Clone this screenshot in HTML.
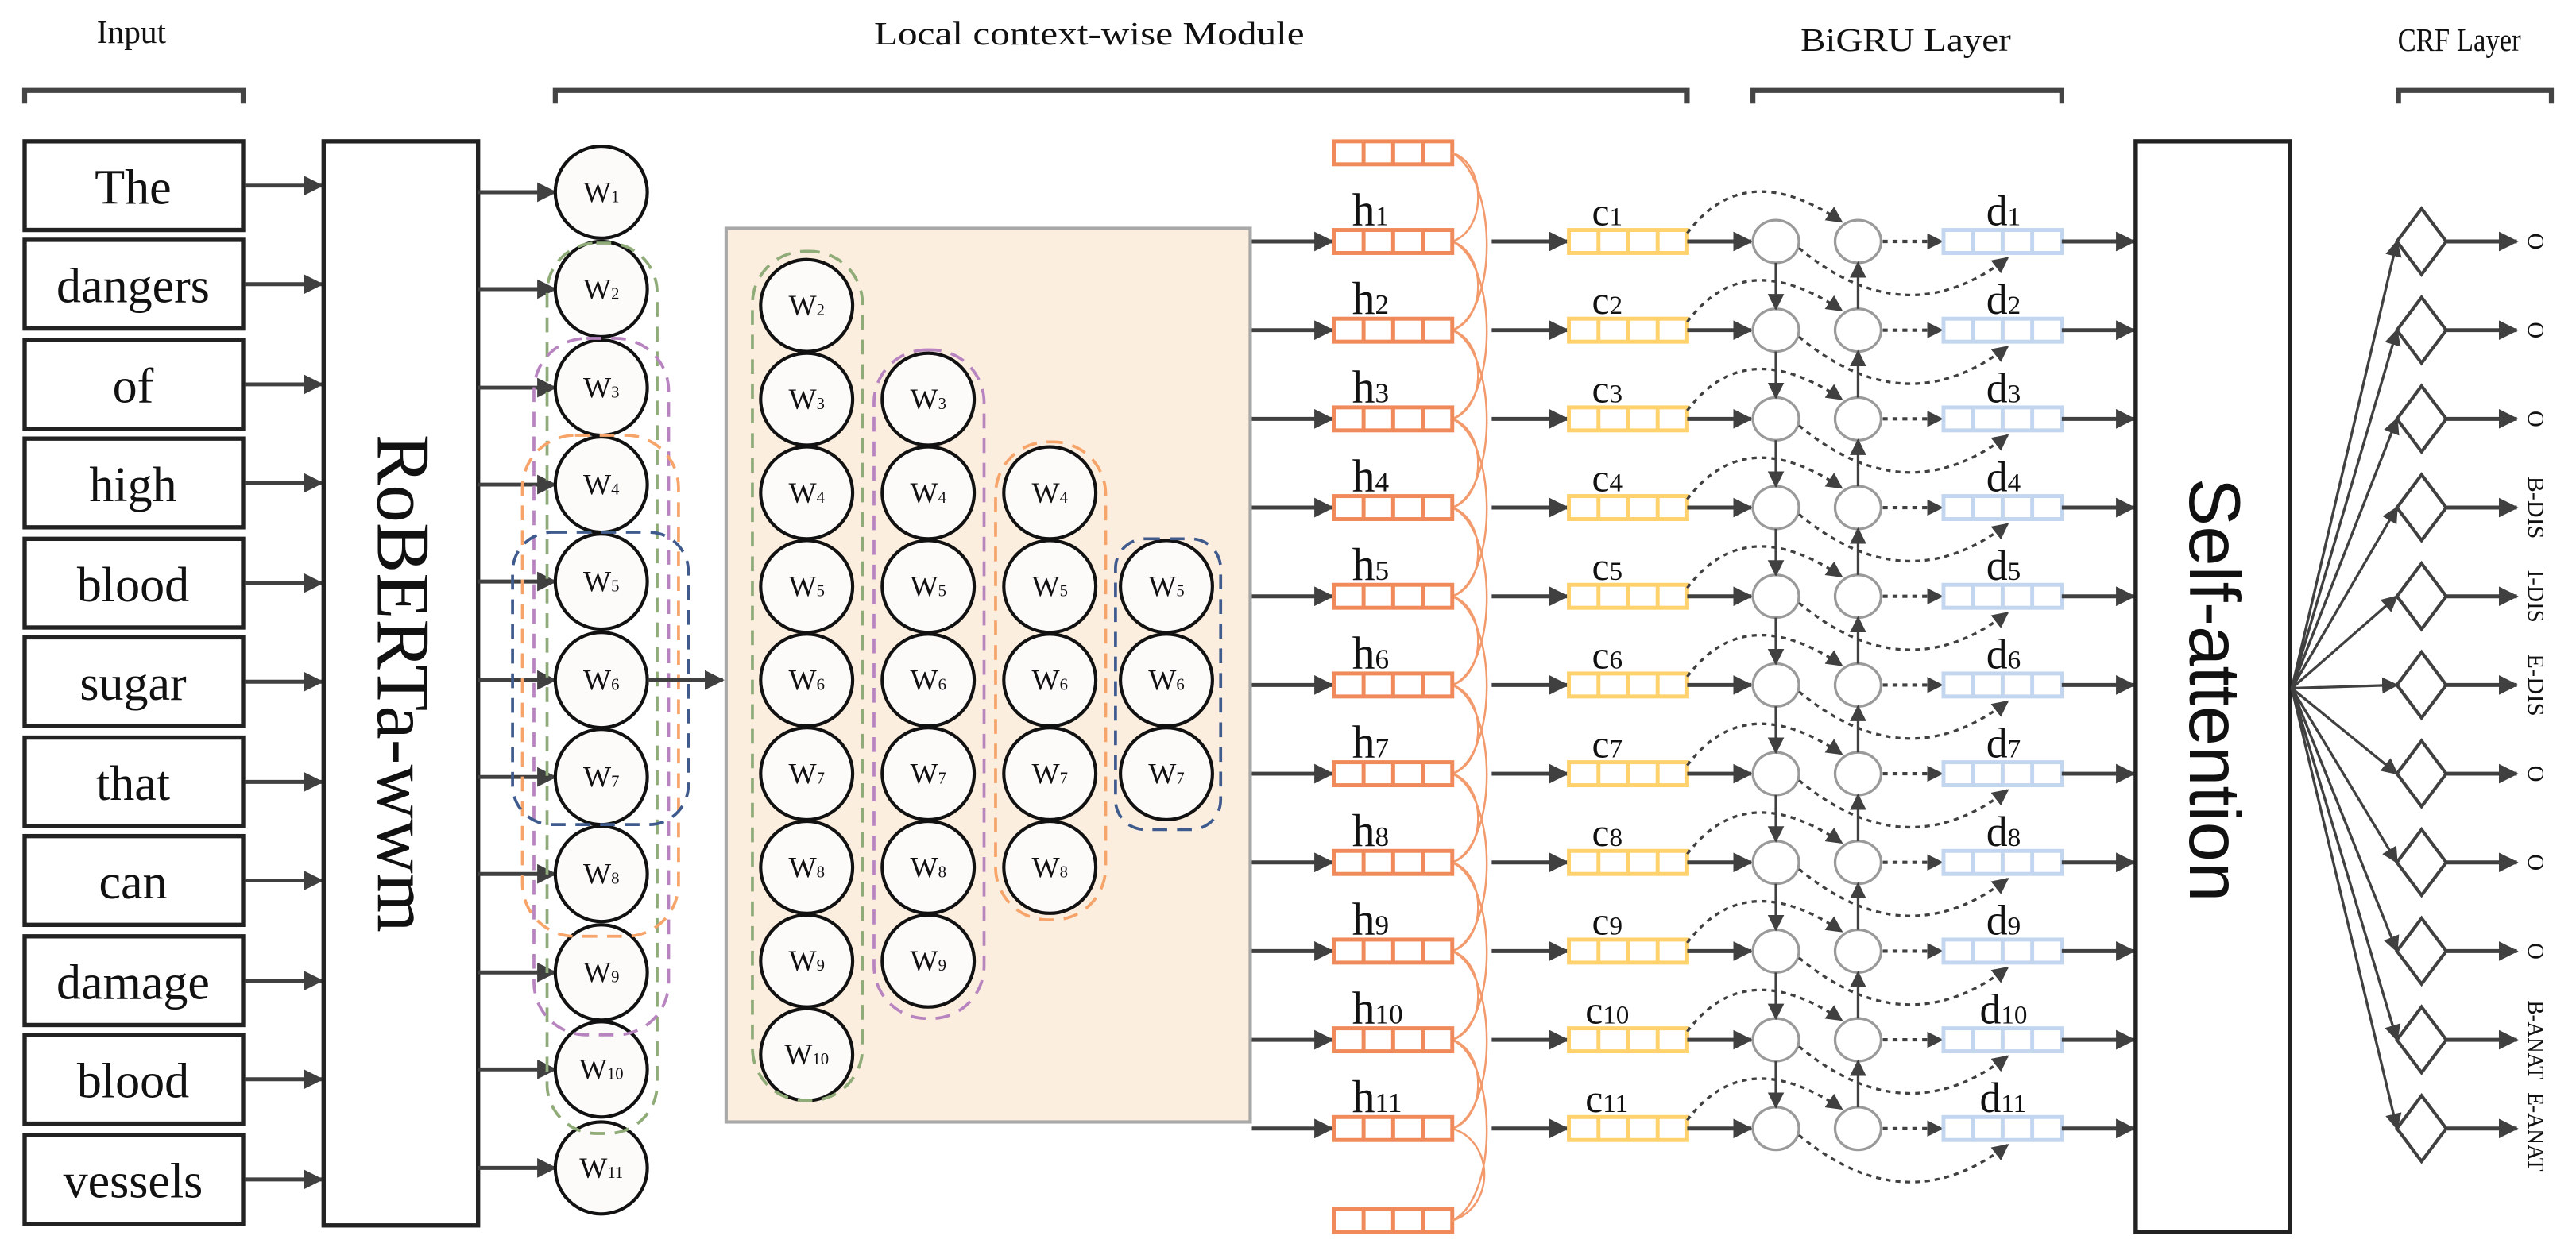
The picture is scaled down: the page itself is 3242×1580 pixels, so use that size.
<!DOCTYPE html>
<html><head><meta charset="utf-8"><style>
html,body{margin:0;padding:0;background:#fff}
svg{display:block}
text{font-family:"Liberation Serif",serif;fill:#111}
.ar{stroke:#404040;stroke-width:2.4;fill:none;marker-end:url(#a)}
.ar2{stroke:#404040;stroke-width:1.6;fill:none;marker-end:url(#a2)}
.dt{stroke:#404040;stroke-width:2;fill:none;stroke-dasharray:3 3;marker-end:url(#a2)}
.dtn{stroke:#404040;stroke-width:1.6;fill:none;stroke-dasharray:3 3;marker-end:url(#a2)}
.bx{fill:#fff;stroke:#222;stroke-width:2.6}
.w{fill:#fdfafa;stroke:#111;stroke-width:2}
.wt{font-size:18px;text-anchor:middle}
.g1{fill:none;stroke-width:1.8;stroke-dasharray:9 6}
.oc{fill:none;stroke:#f39a6c;stroke-width:1.2}
.gc{fill:#fff;stroke:#9a9a9a;stroke-width:1.6}
.dm{fill:#fff;stroke:#404040;stroke-width:2}
.lb{font-size:14px;text-anchor:middle}
</style></head><body>
<svg width="3242" height="1580" viewBox="0 0 1568 764" preserveAspectRatio="none" xmlns="http://www.w3.org/2000/svg">
<defs>
<marker id="a" markerUnits="userSpaceOnUse" markerWidth="12" markerHeight="12" refX="11" refY="6" orient="auto"><path d="M0,0 L12,6 L0,12 z" fill="#404040"/></marker>
<marker id="a2" markerUnits="userSpaceOnUse" markerWidth="10" markerHeight="10" refX="9" refY="5" orient="auto"><path d="M0,0 L10,5 L0,10 z" fill="#404040"/></marker>
<g id="hb"><rect x="0" y="0" width="72" height="14" fill="#fff" stroke="#f08a5b" stroke-width="2.4"/><path d="M18,0V14M36,0V14M54,0V14" stroke="#f08a5b" stroke-width="2.4"/></g>
<g id="cb"><rect x="0" y="0" width="72" height="14" fill="#fff" stroke="#ffd26e" stroke-width="2.4"/><path d="M18,0V14M36,0V14M54,0V14" stroke="#ffd26e" stroke-width="2.4"/></g>
<g id="db"><rect x="0" y="0" width="72" height="14" fill="#fff" stroke="#c3d6f0" stroke-width="2.4"/><path d="M18,0V14M36,0V14M54,0V14" stroke="#c3d6f0" stroke-width="2.4"/></g>
</defs>

<text x="80" y="26" font-size="20" text-anchor="middle">Input</text>
<text x="663" y="27" font-size="20" text-anchor="middle" textLength="262" lengthAdjust="spacingAndGlyphs">Local context-wise Module</text>
<text x="1160" y="31" font-size="20" text-anchor="middle" textLength="128" lengthAdjust="spacingAndGlyphs">BiGRU Layer</text>
<text x="1497" y="31" font-size="20" text-anchor="middle" textLength="75" lengthAdjust="spacingAndGlyphs">CRF Layer</text>
<g stroke="#444" fill="none"><path d="M15,63V55H148V63" stroke-width="3"/><path d="M338,63V55H1027V63" stroke-width="3"/><path d="M1067,63V55H1255V63" stroke-width="3"/><path d="M1460,63V55H1553V63" stroke-width="3"/></g>

<g>
<rect class="bx" x="15" y="86" width="133" height="54"/><text x="81" y="124" font-size="30" text-anchor="middle">The</text>
<rect class="bx" x="15" y="146" width="133" height="54"/><text x="81" y="184" font-size="30" text-anchor="middle">dangers</text>
<rect class="bx" x="15" y="207" width="133" height="54"/><text x="81" y="245" font-size="30" text-anchor="middle">of</text>
<rect class="bx" x="15" y="267" width="133" height="54"/><text x="81" y="305" font-size="30" text-anchor="middle">high</text>
<rect class="bx" x="15" y="328" width="133" height="54"/><text x="81" y="366" font-size="30" text-anchor="middle">blood</text>
<rect class="bx" x="15" y="388" width="133" height="54"/><text x="81" y="426" font-size="30" text-anchor="middle">sugar</text>
<rect class="bx" x="15" y="449" width="133" height="54"/><text x="81" y="487" font-size="30" text-anchor="middle">that</text>
<rect class="bx" x="15" y="509" width="133" height="54"/><text x="81" y="547" font-size="30" text-anchor="middle">can</text>
<rect class="bx" x="15" y="570" width="133" height="54"/><text x="81" y="608" font-size="30" text-anchor="middle">damage</text>
<rect class="bx" x="15" y="630" width="133" height="54"/><text x="81" y="668" font-size="30" text-anchor="middle">blood</text>
<rect class="bx" x="15" y="691" width="133" height="54"/><text x="81" y="729" font-size="30" text-anchor="middle">vessels</text>
</g>
<g>
<line class="ar" x1="149" y1="113" x2="196" y2="113"/><line class="ar" x1="149" y1="173" x2="196" y2="173"/><line class="ar" x1="149" y1="234" x2="196" y2="234"/><line class="ar" x1="149" y1="294" x2="196" y2="294"/><line class="ar" x1="149" y1="355" x2="196" y2="355"/><line class="ar" x1="149" y1="415" x2="196" y2="415"/><line class="ar" x1="149" y1="476" x2="196" y2="476"/><line class="ar" x1="149" y1="536" x2="196" y2="536"/><line class="ar" x1="149" y1="597" x2="196" y2="597"/><line class="ar" x1="149" y1="657" x2="196" y2="657"/><line class="ar" x1="149" y1="718" x2="196" y2="718"/>
</g>
<rect x="197" y="86" width="94" height="660" fill="#fff" stroke="#222" stroke-width="2.6"/>
<text transform="translate(230,416) rotate(90)" font-size="46" text-anchor="middle">RoBERTa-wwm</text>

<g>
<line class="ar" x1="291" y1="117" x2="338" y2="117"/><line class="ar" x1="291" y1="176" x2="338" y2="176"/><line class="ar" x1="291" y1="236" x2="338" y2="236"/><line class="ar" x1="291" y1="295" x2="338" y2="295"/><line class="ar" x1="291" y1="354" x2="338" y2="354"/><line class="ar" x1="291" y1="414" x2="338" y2="414"/><line class="ar" x1="291" y1="473" x2="338" y2="473"/><line class="ar" x1="291" y1="532" x2="338" y2="532"/><line class="ar" x1="291" y1="592" x2="338" y2="592"/><line class="ar" x1="291" y1="651" x2="338" y2="651"/><line class="ar" x1="291" y1="711" x2="338" y2="711"/>
</g>
<g>
<ellipse class="w" cx="366" cy="117" rx="28" ry="28"/><text class="wt" x="366" y="123">W<tspan font-size="10">1</tspan></text>
<ellipse class="w" cx="366" cy="176" rx="28" ry="29"/><text class="wt" x="366" y="182">W<tspan font-size="10">2</tspan></text>
<ellipse class="w" cx="366" cy="236" rx="28" ry="29"/><text class="wt" x="366" y="242">W<tspan font-size="10">3</tspan></text>
<ellipse class="w" cx="366" cy="295" rx="28" ry="29"/><text class="wt" x="366" y="301">W<tspan font-size="10">4</tspan></text>
<ellipse class="w" cx="366" cy="354" rx="28" ry="29"/><text class="wt" x="366" y="360">W<tspan font-size="10">5</tspan></text>
<ellipse class="w" cx="366" cy="414" rx="28" ry="29"/><text class="wt" x="366" y="420">W<tspan font-size="10">6</tspan></text>
<ellipse class="w" cx="366" cy="473" rx="28" ry="29"/><text class="wt" x="366" y="479">W<tspan font-size="10">7</tspan></text>
<ellipse class="w" cx="366" cy="532" rx="28" ry="29"/><text class="wt" x="366" y="538">W<tspan font-size="10">8</tspan></text>
<ellipse class="w" cx="366" cy="592" rx="28" ry="29"/><text class="wt" x="366" y="598">W<tspan font-size="10">9</tspan></text>
<ellipse class="w" cx="366" cy="651" rx="28" ry="29"/><text class="wt" x="366" y="657">W<tspan font-size="10">10</tspan></text>
<ellipse class="w" cx="366" cy="711" rx="28" ry="28"/><text class="wt" x="366" y="717">W<tspan font-size="10">11</tspan></text>
</g>
<rect class="g1" x="333" y="148" width="67" height="542" rx="30" stroke="#8fab78"/>
<rect class="g1" x="325" y="206" width="82" height="424" rx="32" stroke="#b884c0"/>
<rect class="g1" x="318" y="265" width="95" height="305" rx="32" stroke="#f6a469"/>
<rect class="g1" x="312" y="324" width="107" height="178" rx="24" stroke="#3f5b8e"/>
<line class="ar" x1="394" y1="414" x2="440" y2="414"/>

<rect x="442" y="139" width="319" height="544" fill="#fbeedf" stroke="#a8a8a8" stroke-width="2"/>
<g>
<ellipse class="w" cx="491" cy="186" rx="28" ry="28"/><text class="wt" x="491" y="192">W<tspan font-size="10">2</tspan></text>
<ellipse class="w" cx="491" cy="243" rx="28" ry="28"/><text class="wt" x="491" y="249">W<tspan font-size="10">3</tspan></text>
<ellipse class="w" cx="491" cy="300" rx="28" ry="28"/><text class="wt" x="491" y="306">W<tspan font-size="10">4</tspan></text>
<ellipse class="w" cx="491" cy="357" rx="28" ry="28"/><text class="wt" x="491" y="363">W<tspan font-size="10">5</tspan></text>
<ellipse class="w" cx="491" cy="414" rx="28" ry="28"/><text class="wt" x="491" y="420">W<tspan font-size="10">6</tspan></text>
<ellipse class="w" cx="491" cy="471" rx="28" ry="28"/><text class="wt" x="491" y="477">W<tspan font-size="10">7</tspan></text>
<ellipse class="w" cx="491" cy="528" rx="28" ry="28"/><text class="wt" x="491" y="534">W<tspan font-size="10">8</tspan></text>
<ellipse class="w" cx="491" cy="585" rx="28" ry="28"/><text class="wt" x="491" y="591">W<tspan font-size="10">9</tspan></text>
<ellipse class="w" cx="491" cy="642" rx="28" ry="28"/><text class="wt" x="491" y="648">W<tspan font-size="10">10</tspan></text>

<ellipse class="w" cx="565" cy="243" rx="28" ry="28"/><text class="wt" x="565" y="249">W<tspan font-size="10">3</tspan></text>
<ellipse class="w" cx="565" cy="300" rx="28" ry="28"/><text class="wt" x="565" y="306">W<tspan font-size="10">4</tspan></text>
<ellipse class="w" cx="565" cy="357" rx="28" ry="28"/><text class="wt" x="565" y="363">W<tspan font-size="10">5</tspan></text>
<ellipse class="w" cx="565" cy="414" rx="28" ry="28"/><text class="wt" x="565" y="420">W<tspan font-size="10">6</tspan></text>
<ellipse class="w" cx="565" cy="471" rx="28" ry="28"/><text class="wt" x="565" y="477">W<tspan font-size="10">7</tspan></text>
<ellipse class="w" cx="565" cy="528" rx="28" ry="28"/><text class="wt" x="565" y="534">W<tspan font-size="10">8</tspan></text>
<ellipse class="w" cx="565" cy="585" rx="28" ry="28"/><text class="wt" x="565" y="591">W<tspan font-size="10">9</tspan></text>

<ellipse class="w" cx="639" cy="300" rx="28" ry="28"/><text class="wt" x="639" y="306">W<tspan font-size="10">4</tspan></text>
<ellipse class="w" cx="639" cy="357" rx="28" ry="28"/><text class="wt" x="639" y="363">W<tspan font-size="10">5</tspan></text>
<ellipse class="w" cx="639" cy="414" rx="28" ry="28"/><text class="wt" x="639" y="420">W<tspan font-size="10">6</tspan></text>
<ellipse class="w" cx="639" cy="471" rx="28" ry="28"/><text class="wt" x="639" y="477">W<tspan font-size="10">7</tspan></text>
<ellipse class="w" cx="639" cy="528" rx="28" ry="28"/><text class="wt" x="639" y="534">W<tspan font-size="10">8</tspan></text>

<ellipse class="w" cx="710" cy="357" rx="28" ry="28"/><text class="wt" x="710" y="363">W<tspan font-size="10">5</tspan></text>
<ellipse class="w" cx="710" cy="414" rx="28" ry="28"/><text class="wt" x="710" y="420">W<tspan font-size="10">6</tspan></text>
<ellipse class="w" cx="710" cy="471" rx="28" ry="28"/><text class="wt" x="710" y="477">W<tspan font-size="10">7</tspan></text>
</g>
<rect class="g1" x="458" y="153" width="67" height="517" rx="32" stroke="#8fab78"/>
<rect class="g1" x="532" y="213" width="67" height="407" rx="32" stroke="#b884c0"/>
<rect class="g1" x="606" y="269" width="67" height="291" rx="32" stroke="#f6a469"/>
<rect class="g1" x="679" y="328" width="64" height="177" rx="18" stroke="#3f5b8e"/>

<use href="#hb" x="812" y="86"/>
<use href="#hb" x="812" y="736"/>
<g class="oc">
<path d="M884,93 C905,100 905,140 884,147"/>
<path d="M884,147 C905,154 905,194 884,201"/><path d="M884,201 C905,208 905,248 884,255"/><path d="M884,255 C905,262 905,302 884,309"/><path d="M884,309 C905,316 905,356 884,363"/><path d="M884,363 C905,370 905,410 884,417"/><path d="M884,417 C905,424 905,464 884,471"/><path d="M884,471 C905,478 905,518 884,525"/><path d="M884,525 C905,532 905,572 884,579"/><path d="M884,579 C905,586 905,626 884,633"/><path d="M884,633 C905,640 905,680 884,687"/>
<path d="M884,687 C910,695 910,735 884,743"/>
<path d="M884,93 C912,110 912,190 884,201"/><path d="M884,147 C912,160 912,244 884,255"/><path d="M884,201 C912,214 912,298 884,309"/><path d="M884,255 C912,268 912,352 884,363"/><path d="M884,309 C912,322 912,406 884,417"/><path d="M884,363 C912,376 912,460 884,471"/><path d="M884,417 C912,430 912,514 884,525"/><path d="M884,471 C912,484 912,568 884,579"/><path d="M884,525 C912,538 912,622 884,633"/><path d="M884,579 C912,592 912,676 884,687"/><path d="M884,633 C912,646 912,730 884,743"/>
</g>

<g>
<line class="ar" x1="762" y1="147" x2="811" y2="147"/><use href="#hb" x="812" y="140"/><line class="ar" x1="908" y1="147" x2="954" y2="147"/><use href="#cb" x="955" y="140"/><line class="ar" x1="1027" y1="147" x2="1066" y2="147"/><ellipse class="gc" cx="1081" cy="147" rx="14" ry="13"/><ellipse class="gc" cx="1131" cy="147" rx="14" ry="13"/><line class="dt" x1="1146" y1="147" x2="1182" y2="147"/><use href="#db" x="1183" y="140"/><line class="ar" x1="1255" y1="147" x2="1299" y2="147"/><path class="dtn" d="M1027,142 Q1062,95 1121,135"/><path class="dtn" d="M1095,151 Q1160,205 1222,157"/>
<line class="ar" x1="762" y1="201" x2="811" y2="201"/><use href="#hb" x="812" y="194"/><line class="ar" x1="908" y1="201" x2="954" y2="201"/><use href="#cb" x="955" y="194"/><line class="ar" x1="1027" y1="201" x2="1066" y2="201"/><ellipse class="gc" cx="1081" cy="201" rx="14" ry="13"/><ellipse class="gc" cx="1131" cy="201" rx="14" ry="13"/><line class="dt" x1="1146" y1="201" x2="1182" y2="201"/><use href="#db" x="1183" y="194"/><line class="ar" x1="1255" y1="201" x2="1299" y2="201"/><path class="dtn" d="M1027,196 Q1062,149 1121,189"/><path class="dtn" d="M1095,205 Q1160,259 1222,211"/>
<line class="ar" x1="762" y1="255" x2="811" y2="255"/><use href="#hb" x="812" y="248"/><line class="ar" x1="908" y1="255" x2="954" y2="255"/><use href="#cb" x="955" y="248"/><line class="ar" x1="1027" y1="255" x2="1066" y2="255"/><ellipse class="gc" cx="1081" cy="255" rx="14" ry="13"/><ellipse class="gc" cx="1131" cy="255" rx="14" ry="13"/><line class="dt" x1="1146" y1="255" x2="1182" y2="255"/><use href="#db" x="1183" y="248"/><line class="ar" x1="1255" y1="255" x2="1299" y2="255"/><path class="dtn" d="M1027,250 Q1062,203 1121,243"/><path class="dtn" d="M1095,259 Q1160,313 1222,265"/>
<line class="ar" x1="762" y1="309" x2="811" y2="309"/><use href="#hb" x="812" y="302"/><line class="ar" x1="908" y1="309" x2="954" y2="309"/><use href="#cb" x="955" y="302"/><line class="ar" x1="1027" y1="309" x2="1066" y2="309"/><ellipse class="gc" cx="1081" cy="309" rx="14" ry="13"/><ellipse class="gc" cx="1131" cy="309" rx="14" ry="13"/><line class="dt" x1="1146" y1="309" x2="1182" y2="309"/><use href="#db" x="1183" y="302"/><line class="ar" x1="1255" y1="309" x2="1299" y2="309"/><path class="dtn" d="M1027,304 Q1062,257 1121,297"/><path class="dtn" d="M1095,313 Q1160,367 1222,319"/>
<line class="ar" x1="762" y1="363" x2="811" y2="363"/><use href="#hb" x="812" y="356"/><line class="ar" x1="908" y1="363" x2="954" y2="363"/><use href="#cb" x="955" y="356"/><line class="ar" x1="1027" y1="363" x2="1066" y2="363"/><ellipse class="gc" cx="1081" cy="363" rx="14" ry="13"/><ellipse class="gc" cx="1131" cy="363" rx="14" ry="13"/><line class="dt" x1="1146" y1="363" x2="1182" y2="363"/><use href="#db" x="1183" y="356"/><line class="ar" x1="1255" y1="363" x2="1299" y2="363"/><path class="dtn" d="M1027,358 Q1062,311 1121,351"/><path class="dtn" d="M1095,367 Q1160,421 1222,373"/>
<line class="ar" x1="762" y1="417" x2="811" y2="417"/><use href="#hb" x="812" y="410"/><line class="ar" x1="908" y1="417" x2="954" y2="417"/><use href="#cb" x="955" y="410"/><line class="ar" x1="1027" y1="417" x2="1066" y2="417"/><ellipse class="gc" cx="1081" cy="417" rx="14" ry="13"/><ellipse class="gc" cx="1131" cy="417" rx="14" ry="13"/><line class="dt" x1="1146" y1="417" x2="1182" y2="417"/><use href="#db" x="1183" y="410"/><line class="ar" x1="1255" y1="417" x2="1299" y2="417"/><path class="dtn" d="M1027,412 Q1062,365 1121,405"/><path class="dtn" d="M1095,421 Q1160,475 1222,427"/>
<line class="ar" x1="762" y1="471" x2="811" y2="471"/><use href="#hb" x="812" y="464"/><line class="ar" x1="908" y1="471" x2="954" y2="471"/><use href="#cb" x="955" y="464"/><line class="ar" x1="1027" y1="471" x2="1066" y2="471"/><ellipse class="gc" cx="1081" cy="471" rx="14" ry="13"/><ellipse class="gc" cx="1131" cy="471" rx="14" ry="13"/><line class="dt" x1="1146" y1="471" x2="1182" y2="471"/><use href="#db" x="1183" y="464"/><line class="ar" x1="1255" y1="471" x2="1299" y2="471"/><path class="dtn" d="M1027,466 Q1062,419 1121,459"/><path class="dtn" d="M1095,475 Q1160,529 1222,481"/>
<line class="ar" x1="762" y1="525" x2="811" y2="525"/><use href="#hb" x="812" y="518"/><line class="ar" x1="908" y1="525" x2="954" y2="525"/><use href="#cb" x="955" y="518"/><line class="ar" x1="1027" y1="525" x2="1066" y2="525"/><ellipse class="gc" cx="1081" cy="525" rx="14" ry="13"/><ellipse class="gc" cx="1131" cy="525" rx="14" ry="13"/><line class="dt" x1="1146" y1="525" x2="1182" y2="525"/><use href="#db" x="1183" y="518"/><line class="ar" x1="1255" y1="525" x2="1299" y2="525"/><path class="dtn" d="M1027,520 Q1062,473 1121,513"/><path class="dtn" d="M1095,529 Q1160,583 1222,535"/>
<line class="ar" x1="762" y1="579" x2="811" y2="579"/><use href="#hb" x="812" y="572"/><line class="ar" x1="908" y1="579" x2="954" y2="579"/><use href="#cb" x="955" y="572"/><line class="ar" x1="1027" y1="579" x2="1066" y2="579"/><ellipse class="gc" cx="1081" cy="579" rx="14" ry="13"/><ellipse class="gc" cx="1131" cy="579" rx="14" ry="13"/><line class="dt" x1="1146" y1="579" x2="1182" y2="579"/><use href="#db" x="1183" y="572"/><line class="ar" x1="1255" y1="579" x2="1299" y2="579"/><path class="dtn" d="M1027,574 Q1062,527 1121,567"/><path class="dtn" d="M1095,583 Q1160,637 1222,589"/>
<line class="ar" x1="762" y1="633" x2="811" y2="633"/><use href="#hb" x="812" y="626"/><line class="ar" x1="908" y1="633" x2="954" y2="633"/><use href="#cb" x="955" y="626"/><line class="ar" x1="1027" y1="633" x2="1066" y2="633"/><ellipse class="gc" cx="1081" cy="633" rx="14" ry="13"/><ellipse class="gc" cx="1131" cy="633" rx="14" ry="13"/><line class="dt" x1="1146" y1="633" x2="1182" y2="633"/><use href="#db" x="1183" y="626"/><line class="ar" x1="1255" y1="633" x2="1299" y2="633"/><path class="dtn" d="M1027,628 Q1062,581 1121,621"/><path class="dtn" d="M1095,637 Q1160,691 1222,643"/>
<line class="ar" x1="762" y1="687" x2="811" y2="687"/><use href="#hb" x="812" y="680"/><line class="ar" x1="908" y1="687" x2="954" y2="687"/><use href="#cb" x="955" y="680"/><line class="ar" x1="1027" y1="687" x2="1066" y2="687"/><ellipse class="gc" cx="1081" cy="687" rx="14" ry="13"/><ellipse class="gc" cx="1131" cy="687" rx="14" ry="13"/><line class="dt" x1="1146" y1="687" x2="1182" y2="687"/><use href="#db" x="1183" y="680"/><line class="ar" x1="1255" y1="687" x2="1299" y2="687"/><path class="dtn" d="M1027,682 Q1062,635 1121,675"/><path class="dtn" d="M1095,691 Q1160,745 1222,697"/>
</g>
<g>
<line class="ar2" x1="1081" y1="160" x2="1081" y2="188"/><line class="ar2" x1="1081" y1="214" x2="1081" y2="242"/><line class="ar2" x1="1081" y1="268" x2="1081" y2="296"/><line class="ar2" x1="1081" y1="322" x2="1081" y2="350"/><line class="ar2" x1="1081" y1="376" x2="1081" y2="404"/><line class="ar2" x1="1081" y1="430" x2="1081" y2="458"/><line class="ar2" x1="1081" y1="484" x2="1081" y2="512"/><line class="ar2" x1="1081" y1="538" x2="1081" y2="566"/><line class="ar2" x1="1081" y1="592" x2="1081" y2="620"/><line class="ar2" x1="1081" y1="646" x2="1081" y2="674"/>
<line class="ar2" x1="1131" y1="188" x2="1131" y2="160"/><line class="ar2" x1="1131" y1="242" x2="1131" y2="214"/><line class="ar2" x1="1131" y1="296" x2="1131" y2="268"/><line class="ar2" x1="1131" y1="350" x2="1131" y2="322"/><line class="ar2" x1="1131" y1="404" x2="1131" y2="376"/><line class="ar2" x1="1131" y1="458" x2="1131" y2="430"/><line class="ar2" x1="1131" y1="512" x2="1131" y2="484"/><line class="ar2" x1="1131" y1="566" x2="1131" y2="538"/><line class="ar2" x1="1131" y1="620" x2="1131" y2="592"/><line class="ar2" x1="1131" y1="674" x2="1131" y2="646"/>
</g>
<g font-size="28">
<text x="823" y="137">h<tspan font-size="17">1</tspan></text><text x="823" y="191">h<tspan font-size="17">2</tspan></text><text x="823" y="245">h<tspan font-size="17">3</tspan></text><text x="823" y="299">h<tspan font-size="17">4</tspan></text><text x="823" y="353">h<tspan font-size="17">5</tspan></text><text x="823" y="407">h<tspan font-size="17">6</tspan></text><text x="823" y="461">h<tspan font-size="17">7</tspan></text><text x="823" y="515">h<tspan font-size="17">8</tspan></text><text x="823" y="569">h<tspan font-size="17">9</tspan></text><text x="823" y="623">h<tspan font-size="17">10</tspan></text><text x="823" y="677">h<tspan font-size="17">11</tspan></text>
</g>
<g font-size="24">
<text x="969" y="137">c<tspan font-size="16">1</tspan></text><text x="969" y="191">c<tspan font-size="16">2</tspan></text><text x="969" y="245">c<tspan font-size="16">3</tspan></text><text x="969" y="299">c<tspan font-size="16">4</tspan></text><text x="969" y="353">c<tspan font-size="16">5</tspan></text><text x="969" y="407">c<tspan font-size="16">6</tspan></text><text x="969" y="461">c<tspan font-size="16">7</tspan></text><text x="969" y="515">c<tspan font-size="16">8</tspan></text><text x="969" y="569">c<tspan font-size="16">9</tspan></text><text x="965" y="623">c<tspan font-size="16">10</tspan></text><text x="965" y="677">c<tspan font-size="16">11</tspan></text>
</g>
<g font-size="26">
<text x="1209" y="137">d<tspan font-size="16">1</tspan></text><text x="1209" y="191">d<tspan font-size="16">2</tspan></text><text x="1209" y="245">d<tspan font-size="16">3</tspan></text><text x="1209" y="299">d<tspan font-size="16">4</tspan></text><text x="1209" y="353">d<tspan font-size="16">5</tspan></text><text x="1209" y="407">d<tspan font-size="16">6</tspan></text><text x="1209" y="461">d<tspan font-size="16">7</tspan></text><text x="1209" y="515">d<tspan font-size="16">8</tspan></text><text x="1209" y="569">d<tspan font-size="16">9</tspan></text><text x="1205" y="623">d<tspan font-size="16">10</tspan></text><text x="1205" y="677">d<tspan font-size="16">11</tspan></text>
</g>

<rect x="1300" y="86" width="94" height="664" fill="#fff" stroke="#222" stroke-width="2.6"/>
<text transform="translate(1333,420) rotate(90)" font-size="44" text-anchor="middle" style="font-family:'Liberation Sans Narrow','Liberation Sans',sans-serif" textLength="258" lengthAdjust="spacingAndGlyphs">Self-attention</text>

<g>
<line class="ar2" x1="1395" y1="419" x2="1459" y2="147"/><line class="ar2" x1="1395" y1="419" x2="1459" y2="201"/><line class="ar2" x1="1395" y1="419" x2="1459" y2="255"/><line class="ar2" x1="1395" y1="419" x2="1459" y2="309"/><line class="ar2" x1="1395" y1="419" x2="1459" y2="363"/><line class="ar2" x1="1395" y1="419" x2="1459" y2="417"/><line class="ar2" x1="1395" y1="419" x2="1459" y2="471"/><line class="ar2" x1="1395" y1="419" x2="1459" y2="525"/><line class="ar2" x1="1395" y1="419" x2="1459" y2="579"/><line class="ar2" x1="1395" y1="419" x2="1459" y2="633"/><line class="ar2" x1="1395" y1="419" x2="1459" y2="687"/>
</g>
<g>
<path class="dm" d="M1474,127 L1489,147 L1474,167 L1459,147 z"/><path class="dm" d="M1474,181 L1489,201 L1474,221 L1459,201 z"/><path class="dm" d="M1474,235 L1489,255 L1474,275 L1459,255 z"/><path class="dm" d="M1474,289 L1489,309 L1474,329 L1459,309 z"/><path class="dm" d="M1474,343 L1489,363 L1474,383 L1459,363 z"/><path class="dm" d="M1474,397 L1489,417 L1474,437 L1459,417 z"/><path class="dm" d="M1474,451 L1489,471 L1474,491 L1459,471 z"/><path class="dm" d="M1474,505 L1489,525 L1474,545 L1459,525 z"/><path class="dm" d="M1474,559 L1489,579 L1474,599 L1459,579 z"/><path class="dm" d="M1474,613 L1489,633 L1474,653 L1459,633 z"/><path class="dm" d="M1474,667 L1489,687 L1474,707 L1459,687 z"/>
</g>
<g>
<line class="ar" x1="1489" y1="147" x2="1532" y2="147"/><line class="ar" x1="1489" y1="201" x2="1532" y2="201"/><line class="ar" x1="1489" y1="255" x2="1532" y2="255"/><line class="ar" x1="1489" y1="309" x2="1532" y2="309"/><line class="ar" x1="1489" y1="363" x2="1532" y2="363"/><line class="ar" x1="1489" y1="417" x2="1532" y2="417"/><line class="ar" x1="1489" y1="471" x2="1532" y2="471"/><line class="ar" x1="1489" y1="525" x2="1532" y2="525"/><line class="ar" x1="1489" y1="579" x2="1532" y2="579"/><line class="ar" x1="1489" y1="633" x2="1532" y2="633"/><line class="ar" x1="1489" y1="687" x2="1532" y2="687"/>
</g>
<g>
<text class="lb" transform="translate(1539,147) rotate(90)">O</text>
<text class="lb" transform="translate(1539,201) rotate(90)">O</text>
<text class="lb" transform="translate(1539,255) rotate(90)">O</text>
<text class="lb" transform="translate(1539,309) rotate(90)" textLength="38" lengthAdjust="spacingAndGlyphs">B-DIS</text>
<text class="lb" transform="translate(1539,363) rotate(90)" textLength="32" lengthAdjust="spacingAndGlyphs">I-DIS</text>
<text class="lb" transform="translate(1539,417) rotate(90)" textLength="38" lengthAdjust="spacingAndGlyphs">E-DIS</text>
<text class="lb" transform="translate(1539,471) rotate(90)">O</text>
<text class="lb" transform="translate(1539,525) rotate(90)">O</text>
<text class="lb" transform="translate(1539,579) rotate(90)">O</text>
<text class="lb" transform="translate(1539,633) rotate(90)" textLength="48" lengthAdjust="spacingAndGlyphs">B-ANAT</text>
<text class="lb" transform="translate(1539,689) rotate(90)" textLength="48" lengthAdjust="spacingAndGlyphs">E-ANAT</text>
</g>
</svg>
</body></html>
